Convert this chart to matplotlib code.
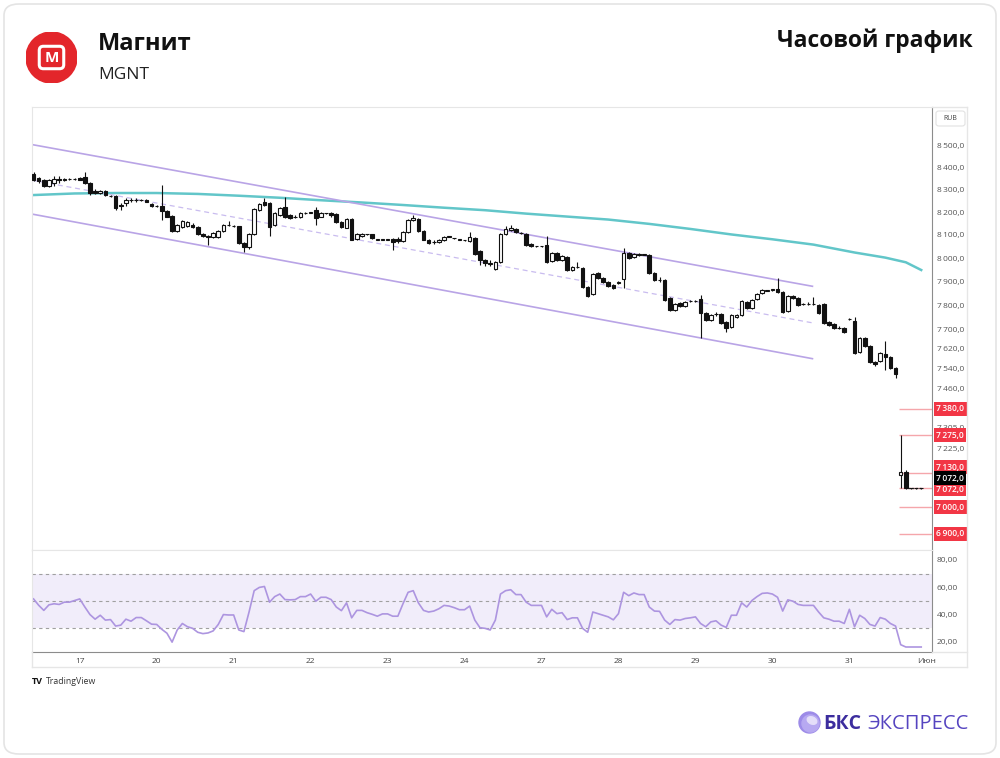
import matplotlib.pyplot as plt
from matplotlib.patches import Circle, FancyBboxPatch, Ellipse
from matplotlib.lines import Line2D
from matplotlib.ticker import FixedLocator, NullLocator
import matplotlib.transforms as mtransforms

plt.rcParams['font.family'] = ['Open Sans', 'DejaVu Sans']

# hourly candles, MGNT
opens = [8368, 8350, 8342, 8316, 8330, 8346, 8340, 8346, 8346, 8352,
         8356, 8330, 8295, 8285, 8292, 8272, 8270, 8232, 8240, 8252,
         8254, 8252, 8254, 8235, 8226, 8228, 8203, 8183, 8117, 8135,
         8140, 8145, 8136, 8104, 8095, 8090, 8092, 8117, 8143, 8138,
         8138, 8065, 8047, 8104, 8209, 8245, 8240, 8143, 8187, 8222,
         8187, 8178, 8178, 8196, 8196, 8209, 8180, 8194, 8196, 8192,
         8156, 8132, 8170, 8082, 8095, 8102, 8102, 8080, 8080, 8080,
         8082, 8084, 8075, 8112, 8163, 8170, 8117, 8080, 8070, 8068,
         8078, 8093, 8085, 8080, 8076, 8074, 8085, 8030, 7990, 7975,
         7955, 7983, 8104, 8123, 8127, 8110, 8104, 8060, 8050, 8050,
         8056, 7987, 8022, 7990, 8005, 7949, 7962, 7958, 7878, 7848,
         7936, 7915, 7898, 7886, 7895, 7911, 8022, 8005, 8018, 8015,
         8013, 7936, 7905, 7907, 7830, 7781, 7810, 7798, 7818, 7818,
         7827, 7768, 7740, 7762, 7765, 7731, 7710, 7750, 7760, 7815,
         7790, 7827, 7852, 7862, 7866, 7868, 7857, 7776, 7840, 7832,
         7806, 7806, 7806, 7802, 7806, 7731, 7723, 7706, 7706, 7744,
         7736, 7608, 7665, 7630, 7568, 7572, 7600, 7588, 7544, 7120,
         7135, 7072, 7072, 7072]
highs = [8380, 8356, 8346, 8346, 8360, 8358, 8352, 8350, 8350, 8356,
         8376, 8334, 8300, 8296, 8296, 8276, 8274, 8240, 8260, 8262,
         8260, 8256, 8258, 8238, 8230, 8320, 8210, 8186, 8146, 8165,
         8160, 8150, 8140, 8108, 8100, 8112, 8120, 8148, 8160, 8142,
         8140, 8068, 8108, 8218, 8240, 8262, 8244, 8200, 8222, 8265,
         8190, 8186, 8200, 8199, 8201, 8222, 8200, 8197, 8199, 8195,
         8160, 8175, 8174, 8108, 8110, 8105, 8105, 8083, 8083, 8083,
         8086, 8092, 8116, 8168, 8186, 8174, 8120, 8083, 8078, 8083,
         8097, 8096, 8088, 8083, 8079, 8112, 8090, 8034, 7998, 7990,
         7986, 8108, 8140, 8142, 8132, 8113, 8108, 8063, 8053, 8053,
         8095, 8026, 8026, 8014, 8009, 7965, 7983, 7962, 7882, 7936,
         7940, 7918, 7901, 7889, 7901, 8043, 8026, 8022, 8022, 8018,
         8016, 7940, 7918, 7910, 7834, 7810, 7814, 7819, 7821, 7821,
         7844, 7772, 7764, 7770, 7769, 7735, 7764, 7762, 7822, 7819,
         7827, 7852, 7869, 7866, 7870, 7915, 7861, 7844, 7844, 7836,
         7810, 7812, 7836, 7806, 7810, 7735, 7727, 7712, 7710, 7748,
         7750, 7669, 7669, 7634, 7572, 7608, 7653, 7592, 7548, 7275,
         7139, 7074, 7074, 7074]
lows = [8338, 8330, 8312, 8312, 8316, 8330, 8336, 8342, 8342, 8340,
        8326, 8275, 8280, 8280, 8270, 8266, 8210, 8210, 8228, 8244,
        8246, 8248, 8243, 8222, 8222, 8165, 8176, 8112, 8112, 8132,
        8136, 8132, 8100, 8090, 8056, 8086, 8088, 8112, 8140, 8134,
        8062, 8025, 8040, 8100, 8205, 8226, 8095, 8138, 8184, 8174,
        8170, 8172, 8175, 8193, 8194, 8143, 8176, 8190, 8180, 8152,
        8132, 8128, 8076, 8078, 8092, 8099, 8082, 8078, 8078, 8078,
        8035, 8066, 8071, 8108, 8160, 8113, 8076, 8061, 8062, 8064,
        8075, 8090, 8082, 8077, 8073, 8070, 8015, 7970, 7968, 7966,
        7950, 7980, 8100, 8118, 8110, 8104, 8052, 8046, 8047, 8047,
        7980, 7983, 7988, 7986, 7945, 7945, 7956, 7874, 7836, 7844,
        7912, 7894, 7878, 7870, 7891, 7874, 7996, 8001, 8009, 8012,
        7932, 7903, 7900, 7819, 7777, 7777, 7794, 7794, 7815, 7815,
        7665, 7736, 7736, 7756, 7723, 7690, 7706, 7746, 7756, 7786,
        7786, 7823, 7848, 7858, 7862, 7853, 7768, 7772, 7828, 7798,
        7802, 7800, 7802, 7764, 7723, 7715, 7702, 7700, 7686, 7740,
        7600, 7604, 7629, 7564, 7552, 7568, 7536, 7540, 7500, 7072,
        7068, 7070, 7070, 7070]
closes = [8342, 8337, 8316, 8342, 8346, 8342, 8348, 8346, 8346, 8344,
          8330, 8285, 8285, 8292, 8275, 8270, 8218, 8226, 8255, 8254,
          8252, 8252, 8245, 8225, 8226, 8203, 8180, 8117, 8143, 8160,
          8156, 8136, 8104, 8095, 8093, 8108, 8117, 8143, 8143, 8138,
          8065, 8047, 8104, 8213, 8235, 8230, 8136, 8196, 8218, 8178,
          8175, 8180, 8196, 8196, 8198, 8175, 8196, 8194, 8185, 8156,
          8136, 8170, 8080, 8104, 8106, 8102, 8085, 8080, 8080, 8080,
          8070, 8075, 8112, 8165, 8173, 8117, 8080, 8065, 8070, 8080,
          8093, 8093, 8085, 8080, 8076, 8089, 8018, 7990, 7980, 7978,
          7983, 8106, 8125, 8128, 8113, 8108, 8056, 8050, 8050, 8050,
          7983, 8022, 7992, 8010, 7949, 7962, 7960, 7878, 7840, 7932,
          7915, 7898, 7882, 7874, 7898, 8022, 8000, 8018, 8013, 8015,
          7936, 7907, 7905, 7823, 7781, 7806, 7798, 7815, 7818, 7818,
          7768, 7740, 7760, 7762, 7727, 7706, 7760, 7758, 7818, 7790,
          7823, 7848, 7865, 7862, 7866, 7857, 7772, 7840, 7832, 7802,
          7806, 7806, 7806, 7768, 7727, 7719, 7706, 7706, 7690, 7744,
          7604, 7665, 7633, 7568, 7560, 7604, 7588, 7544, 7516, 7135,
          7072, 7072, 7072, 7072]

rsi = [51.2, 46.5, 42.7, 46.8, 47.6, 47.1, 48.8, 48.8, 50.0, 51.2,
       45.2, 39.6, 36.2, 39.1, 35.5, 35.9, 31.1, 31.8, 36.2, 34.7,
       37.4, 37.4, 35.0, 32.5, 32.3, 28.7, 25.8, 19.2, 28.2, 33.0,
       30.6, 29.4, 26.5, 25.5, 26.0, 27.5, 32.3, 39.6, 39.3, 39.3,
       28.2, 27.0, 41.5, 57.3, 59.7, 60.4, 48.8, 52.9, 54.8, 50.7,
       50.5, 50.7, 52.9, 52.9, 54.8, 49.5, 52.4, 52.4, 50.7, 45.2,
       42.5, 48.3, 37.2, 42.7, 42.7, 41.0, 39.8, 38.4, 40.1, 40.1,
       38.4, 38.4, 47.6, 56.1, 57.3, 48.3, 42.7, 41.5, 42.2, 43.9,
       46.4, 45.9, 44.7, 43.2, 43.2, 45.9, 35.5, 29.9, 29.4, 28.2,
       35.5, 54.8, 57.3, 58.0, 54.4, 54.4, 48.8, 46.4, 46.4, 46.4,
       37.9, 43.5, 40.3, 41.0, 35.9, 37.2, 37.2, 29.4, 26.5, 41.5,
       40.3, 39.1, 37.9, 35.7, 40.3, 56.1, 53.6, 55.6, 54.4, 54.4,
       45.2, 42.2, 42.0, 35.5, 32.3, 35.9, 35.5, 36.7, 37.2, 37.9,
       33.0, 30.6, 34.2, 35.0, 31.8, 30.1, 39.1, 39.1, 48.3, 45.2,
       50.0, 52.9, 55.3, 55.6, 54.8, 52.4, 42.2, 50.5, 49.5, 47.1,
       46.4, 46.4, 46.4, 41.5, 37.2, 36.2, 34.7, 34.7, 33.0, 43.5,
       30.6, 39.1, 36.7, 32.3, 31.1, 37.4, 36.2, 33.0, 31.1, 17.3,
       15.6, 15.6, 15.6, 15.6]

# moving average at a few bars
ma_idx = [0, 8, 16, 24, 32, 40, 48, 56, 64, 72, 80, 88, 96, 104, 112, 120,
          128, 136, 144, 152, 160, 166, 170, 173]
ma_val = [8275, 8282, 8284, 8284, 8280, 8272, 8263, 8252, 8242, 8231, 8219,
          8208, 8193, 8180, 8167, 8148, 8126, 8102, 8081, 8058, 8024, 8002,
          7982, 7949]

# regression channel (drawn by hand)
chan_x = [-0.3, 151.8]
chan_upper = [8502, 7880]
chan_mid = [8341, 7727]
chan_lower = [8191, 7580]

levels = [7380, 7275, 7130, 7072, 7000, 6900]
level_label_pos = [7380, 7275, 7152, 7068, 7000, 6900]
last_price = 7072
last_label_pos = 7110

price_ticks = [8500, 8400, 8300, 8200, 8100, 8000, 7900, 7800, 7700, 7620,
               7540, 7460, 7305, 7225]
day_idx = [9, 24, 39, 54, 69, 84, 99, 114, 129, 144, 159, 174]
day_labels = ['17', '20', '21', '22', '23', '24', '27', '28', '29', '30',
              '31', 'Июн']

W, H = 1000, 758
fig = plt.figure(figsize=(10, 7.58), dpi=100)
fig.patch.set_facecolor('white')


def fx(x):
    return x / W


def fy(y):
    return 1 - y / H


def rub(v):
    return f'{v:,.1f}'.replace(',', '\u2009').replace('.', ',')


# card outline
fig.add_artist(FancyBboxPatch((fx(4), fy(754)), fx(992), 750 / H,
                              boxstyle='round,pad=0,rounding_size=0.015',
                              transform=fig.transFigure, fc='none',
                              ec='#e4e4e4', lw=1.2))

# header
logo = fig.add_axes([fx(26), fy(83), 51 / W, 51 / H])
logo.set_xlim(0, 50)
logo.set_ylim(0, 50)
logo.set_aspect('equal')
logo.axis('off')
logo.add_patch(Circle((25, 25), 25, color='#e3262b'))
logo.add_patch(FancyBboxPatch((13, 14), 24, 22,
                              boxstyle='round,pad=0,rounding_size=4',
                              fc='none', ec='white', lw=2.2))
logo.text(25, 24.5, 'М', color='white', fontsize=11, fontweight='bold',
          ha='center', va='center')

fig.text(fx(98), fy(50), 'Магнит', fontsize=17, fontweight='bold',
         color='#111111', va='baseline')
fig.text(fx(98), fy(79), 'MGNT', fontsize=12.5, color='#222222',
         va='baseline')
fig.text(fx(973), fy(47), 'Часовой график', fontsize=16.5,
         fontweight='bold', color='#111111', ha='right', va='baseline')

# price panel
ax = fig.add_axes([fx(32), fy(550), 900 / W, 443 / H])
rs = fig.add_axes([fx(32), fy(652), 900 / W, 102 / H], sharex=ax)

n = len(closes)
xs = list(range(n))
for i in xs:
    o, h, l, c = opens[i], highs[i], lows[i], closes[i]
    ax.vlines(i, l, h, color='#111111', lw=0.8, zorder=2)
    if c >= o:
        ax.bar(i, max(c - o, 0.5), bottom=o, width=0.7, color='white',
               edgecolor='#111111', linewidth=0.8, zorder=3)
    else:
        ax.bar(i, o - c, bottom=c, width=0.7, color='#111111',
               edgecolor='#111111', linewidth=0.8, zorder=3)

ax.plot(ma_idx, ma_val, color='#62c6c9', lw=1.8, zorder=1)
ax.plot(chan_x, chan_upper, color='#b9a4e6', lw=1.2, zorder=1)
ax.plot(chan_x, chan_lower, color='#b9a4e6', lw=1.2, zorder=1)
ax.plot(chan_x, chan_mid, color='#c9bcef', lw=0.9, ls=(0, (4, 3)), zorder=1)

xmax = 175.1
ax.set_xlim(-0.3, xmax)
ax.set_yscale('log')
ax.set_ylim(6841, 8675)
ax.hlines(levels, 168.6, xmax, color='#f5a6ab', lw=1.0, zorder=1)
ax.hlines(last_price, 170.5, 173.3, color='#333333', lw=0.9,
          ls=(0, (1.5, 1.5)), zorder=2)

ax.yaxis.tick_right()
ax.yaxis.set_major_locator(FixedLocator(price_ticks))
ax.yaxis.set_minor_locator(NullLocator())
ax.set_yticklabels([rub(v) for v in price_ticks])
ax.tick_params(axis='y', length=0, pad=3.5, labelsize=6, labelcolor='#555555')
ax.tick_params(axis='x', length=0, labelbottom=False)
for side in ['top', 'left', 'bottom']:
    ax.spines[side].set_color('#e6e6e6')
ax.spines['right'].set_color('#8c8c8c')

trans = mtransforms.blended_transform_factory(ax.transAxes, ax.transData)
for lv, pos in zip(levels, level_label_pos):
    ax.text(1.0045, pos, rub(lv), transform=trans, fontsize=6,
            fontweight='semibold', color='white', va='center', ha='left',
            clip_on=False, zorder=6,
            bbox=dict(boxstyle='square,pad=0.3', fc='#f23645', ec='none'))
ax.text(1.0045, last_label_pos, rub(last_price), transform=trans,
        fontsize=6, fontweight='semibold', color='white', va='center',
        ha='left', clip_on=False, zorder=7,
        bbox=dict(boxstyle='square,pad=0.3', fc='#000000', ec='none'))

# RSI panel
rs.fill_between([-0.3, xmax], 30, 70, color='#f1edfa', lw=0)
for lv in [30, 50, 70]:
    rs.axhline(lv, color='#a0a0a0', lw=0.8, ls=(0, (3, 3)))
rs.plot(xs, rsi, color='#ad95e0', lw=1.2)
rs.set_ylim(11.9, 87.4)
rs.yaxis.tick_right()
rs.set_yticks([20, 40, 60, 80])
rs.set_yticklabels(['20,00', '40,00', '60,00', '80,00'])
rs.tick_params(axis='y', length=0, pad=3.5, labelsize=6, labelcolor='#555555')
rs.set_xticks(day_idx)
rs.set_xticklabels(day_labels)
rs.tick_params(axis='x', length=0, pad=4, labelsize=6, labelcolor='#444444')
rs.set_xlim(-0.3, xmax)
for side in ['top', 'left']:
    rs.spines[side].set_color('#e6e6e6')
rs.spines['right'].set_color('#8c8c8c')
rs.spines['bottom'].set_color('#8c8c8c')


def line(x0, y0, x1, y1, color='#e6e6e6', lw=1.0):
    fig.add_artist(Line2D([fx(x0), fx(x1)], [fy(y0), fy(y1)],
                          transform=fig.transFigure, color=color, lw=lw))


# frame around axis strips
line(932, 107, 967, 107)
line(967, 107, 967, 667)
line(32, 667, 967, 667)
line(32, 652, 32, 667)
line(932, 652, 967, 652)

# RUB box
fig.add_artist(FancyBboxPatch((fx(936), fy(126)), 29 / W, 15 / H,
                              boxstyle='round,pad=0,rounding_size=0.003',
                              transform=fig.transFigure, fc='white',
                              ec='#e2e2e2', lw=0.8))
fig.text(fx(950.5), fy(118.5), 'RUB', fontsize=5, color='#444444',
         ha='center', va='center')

# TradingView mark
fig.text(fx(32), fy(681), 'TV', fontsize=6.5, fontweight='bold',
         color='#111111', va='center')
fig.text(fx(46), fy(681), 'TradingView', fontsize=6.3, color='#333333',
         va='center')

# BCS Express logo
ic = fig.add_axes([fx(798), fy(734), 23 / W, 23 / H])
ic.set_xlim(0, 23)
ic.set_ylim(0, 23)
ic.set_aspect('equal')
ic.axis('off')
ic.add_patch(Circle((11.5, 11.5), 10.5, color='#9d8be8'))
ic.add_patch(Circle((12.5, 10.5), 8.5, color='#b7a9f1'))
ic.add_patch(Ellipse((14, 13.5), 10, 7, angle=-25, color='#e4def9'))
fig.text(fx(823), fy(729), 'БКС', fontsize=14, fontweight='bold',
         color='#3c2d9e', va='baseline')
fig.text(fx(867), fy(729), 'ЭКСПРЕСС', fontsize=14.5, color='#5544c0',
         va='baseline')

fig.savefig('out.png', dpi=100)
